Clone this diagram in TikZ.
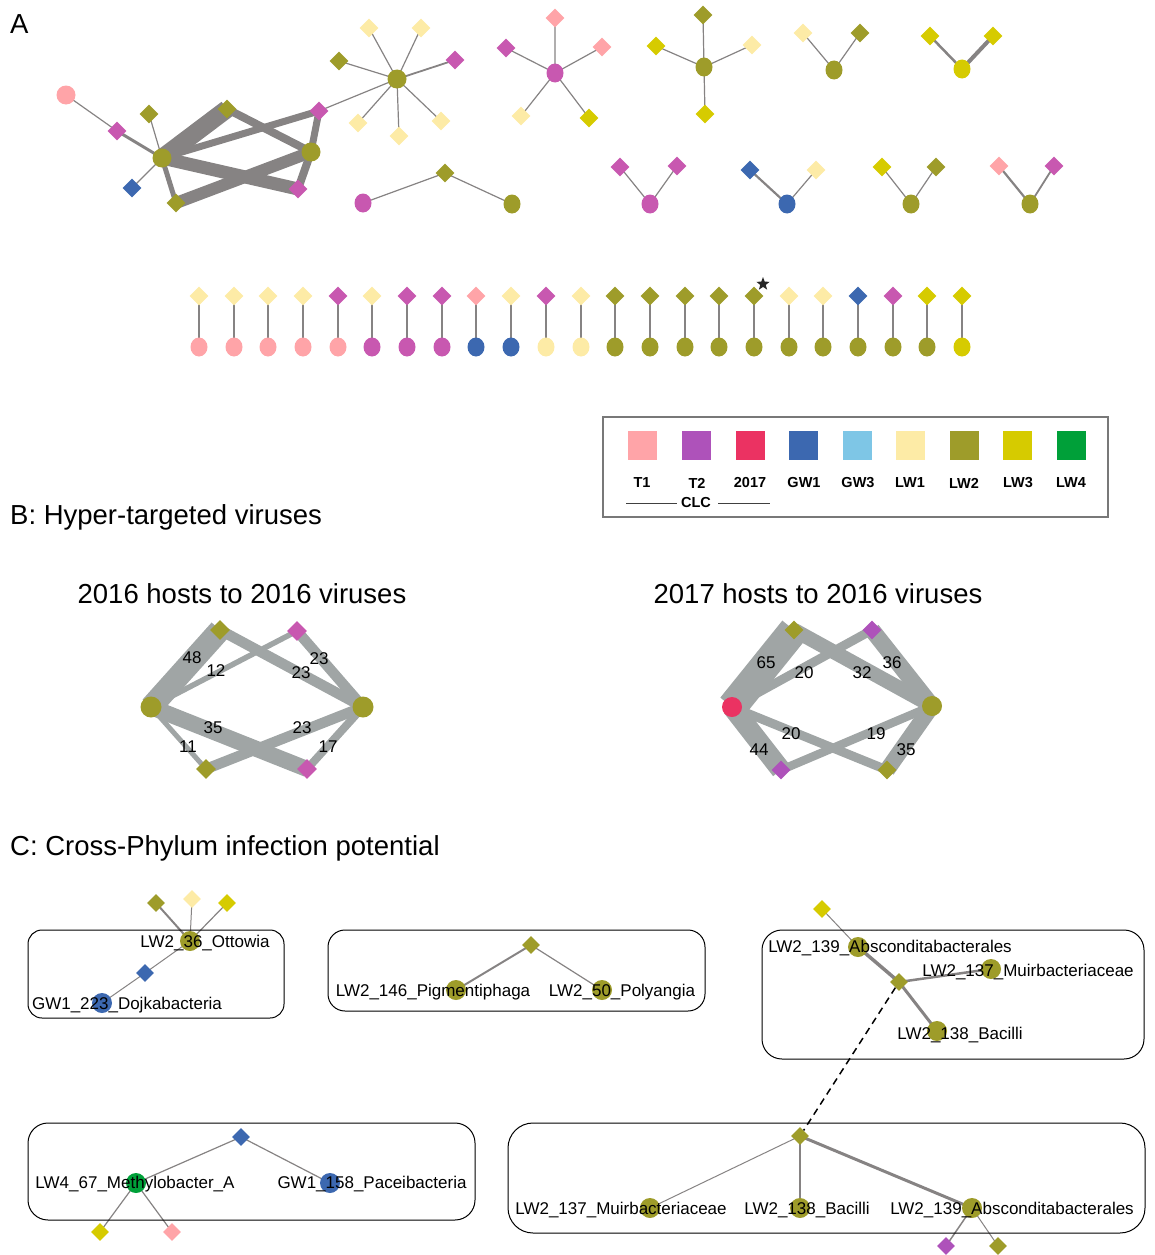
\documentclass[tikz,border=0pt]{standalone}
\usepackage{fontspec}
\setmainfont{Liberation Sans}
\usetikzlibrary{shapes.geometric}

\definecolor{tone}{RGB}{255,164,168}
\definecolor{ttwo}{RGB}{200,88,176}
\definecolor{ttwob}{RGB}{174,82,186}
\definecolor{yrseventeen}{RGB}{235,50,98}
\definecolor{gwone}{RGB}{60,104,176}
\definecolor{gwthree}{RGB}{126,198,230}
\definecolor{lwone}{RGB}{253,235,166}
\definecolor{lwtwo}{RGB}{158,156,42}
\definecolor{lwthree}{RGB}{214,203,0}
\definecolor{lwfour}{RGB}{0,160,57}
\definecolor{edgegray}{RGB}{134,131,131}
\definecolor{bandgray}{RGB}{160,165,165}
\definecolor{framegray}{RGB}{120,120,120}

\pgfdeclarelayer{edges}
\pgfsetlayers{edges,main}

\tikzset{
  hst/.style={ellipse, inner sep=0pt, minimum width=17pt, minimum height=19pt},
  hstc/.style={circle, inner sep=0pt, minimum size=20pt},
  vir/.style={diamond, inner sep=0pt, minimum size=19pt},
  sq/.style={rectangle, inner sep=0pt, minimum size=29pt},
  lnk/.style={draw=edgegray, line width=#1},
  lnk/.default=1.2pt,
  wt/.style={draw=bandgray, line width=#1},
  grp/.style={draw=black, line width=1pt, rounded corners=#1},
  hdr/.style={font=\fontsize{27.5}{33}\selectfont, anchor=base west, inner sep=0pt},
  sub/.style={font=\fontsize{27.5}{33}\selectfont, anchor=base, inner sep=0pt},
  nm/.style={font=\fontsize{17}{20}\selectfont, anchor=base, inner sep=0pt},
  wlab/.style={font=\fontsize{17}{20}\selectfont, inner sep=0pt},
  leg/.style={font=\fontsize{14.5}{16}\selectfont\bfseries, inner sep=0pt}
}

\begin{document}
\begin{tikzpicture}[x=1pt,y=-1pt]
\useasboundingbox (0,0) rectangle (1155,1255);

%%% A: networks
\node[hdr] (hA) at (10,34) {A};

% big cluster
\node[hst,minimum width=19pt,fill=tone] (pk) at (66,95) {};
\node[vir,fill=ttwo] (m1) at (117,131) {};
\node[vir,fill=lwtwo] (o1) at (149,114) {};
\node[hst,minimum width=19pt,fill=lwtwo] (h1) at (162,158) {};
\node[vir,fill=gwone] (b1) at (132,188) {};
\node[vir,fill=lwtwo] (o2) at (176,203) {};
\node[vir,fill=lwtwo] (o3) at (227,109) {};
\node[vir,fill=ttwo] (m2) at (319,111) {};
\node[hst,minimum width=19pt,fill=lwtwo] (h2) at (311,152) {};
\node[vir,fill=ttwo] (m3) at (298,189) {};
% star off the cluster
\node[hst,minimum width=19pt,fill=lwtwo] (s1) at (397,79) {};
\node[vir,fill=lwtwo] (s1a) at (339,61) {};
\node[vir,fill=lwone] (s1b) at (369,28) {};
\node[vir,fill=lwone] (s1c) at (421,28) {};
\node[vir,fill=ttwo] (s1d) at (455,60) {};
\node[vir,fill=lwone] (s1e) at (358,123) {};
\node[vir,fill=lwone] (s1f) at (399,136) {};
\node[vir,fill=lwone] (s1g) at (441,121) {};
% two hosts, one virus
\node[hst,fill=ttwo] (p1a) at (363,203) {};
\node[vir,fill=lwtwo] (p1v) at (445,173) {};
\node[hst,fill=lwtwo] (p1b) at (512,204) {};
% magenta star
\node[hst,fill=ttwo] (s2) at (555,73) {};
\node[vir,fill=tone] (s2a) at (555,18) {};
\node[vir,fill=ttwo] (s2b) at (506,48) {};
\node[vir,fill=tone] (s2c) at (602,47) {};
\node[vir,fill=lwone] (s2d) at (521,116) {};
\node[vir,fill=lwthree] (s2e) at (589,118) {};
% olive star
\node[hst,fill=lwtwo] (s3) at (704,67) {};
\node[vir,fill=lwtwo] (s3a) at (703,15) {};
\node[vir,fill=lwthree] (s3b) at (656,46) {};
\node[vir,fill=lwone] (s3c) at (752,45) {};
\node[vir,fill=lwthree] (s3d) at (705,114) {};
% V pairs
\node[hst,fill=lwtwo] (v1) at (834,70) {};
\node[vir,fill=lwone] (v1a) at (803,33) {};
\node[vir,fill=lwtwo] (v1b) at (860,33) {};
\node[hst,fill=lwthree] (v2) at (962,69) {};
\node[vir,fill=lwthree] (v2a) at (930,36) {};
\node[vir,fill=lwthree] (v2b) at (993,36) {};
\node[hst,fill=ttwo] (v3) at (650,204) {};
\node[vir,fill=ttwo] (v3a) at (620,167) {};
\node[vir,fill=ttwo] (v3b) at (677,166) {};
\node[hst,fill=gwone] (v4) at (787,204) {};
\node[vir,fill=gwone] (v4a) at (750,170) {};
\node[vir,fill=lwone] (v4b) at (816,170) {};
\node[hst,fill=lwtwo] (v5) at (911,204) {};
\node[vir,fill=lwthree] (v5a) at (882,167) {};
\node[vir,fill=lwtwo] (v5b) at (936,167) {};
\node[hst,fill=lwtwo] (v6) at (1030,204) {};
\node[vir,fill=tone] (v6a) at (999,166) {};
\node[vir,fill=ttwo] (v6b) at (1054,166) {};

\begin{pgfonlayer}{edges}
\draw[lnk] (pk.center)--(m1.center);
\draw[lnk=3pt] (m1.center)--(h1.center);
\draw[lnk] (o1.center)--(h1.center);
\draw[lnk] (b1.center)--(h1.center);
\draw[lnk=5pt] (h1.center)--(o2.center);
\draw[lnk=18pt] (h1.center)--(o3.center);
\draw[lnk=7pt] (h1.center)--(m2.center);
\draw[lnk=13pt] (h1.center)--(m3.center);
\draw[lnk=8pt] (h2.center)--(o3.center);
\draw[lnk=12pt] (h2.center)--(o2.center);
\draw[lnk=7pt] (h2.center)--(m2.center);
\draw[lnk=8pt] (h2.center)--(m3.center);
\draw[lnk] (m2.center)--(s1.center);
\draw[lnk] (s1.center)--(s1a.center) (s1.center)--(s1b.center) (s1.center)--(s1c.center);
\draw[lnk=1.8pt] (s1.center)--(s1d.center);
\draw[lnk] (s1.center)--(s1e.center) (s1.center)--(s1f.center) (s1.center)--(s1g.center);
\draw[lnk] (p1a.center)--(p1v.center)--(p1b.center);
\draw[lnk] (s2.center)--(s2a.center) (s2.center)--(s2b.center) (s2.center)--(s2c.center)
  (s2.center)--(s2d.center) (s2.center)--(s2e.center);
\draw[lnk] (s3.center)--(s3a.center) (s3.center)--(s3b.center) (s3.center)--(s3c.center)
  (s3.center)--(s3d.center);
\draw[lnk] (v1a.center)--(v1.center)--(v1b.center);
\draw[lnk=2.5pt] (v2a.center)--(v2.center);
\draw[lnk=4pt] (v2b.center)--(v2.center);
\draw[lnk] (v3a.center)--(v3.center)--(v3b.center);
\draw[lnk=2.2pt] (v4a.center)--(v4.center);
\draw[lnk] (v4b.center)--(v4.center);
\draw[lnk] (v5a.center)--(v5.center)--(v5b.center);
\draw[lnk=2.2pt] (v6a.center)--(v6.center);
\draw[lnk=1.8pt] (v6b.center)--(v6.center);
\end{pgfonlayer}

% single virus - single host row
\node[vir,fill=lwone] (r1v) at (199,296) {};   \node[hst,fill=tone] (r1h) at (199,347) {};
\node[vir,fill=lwone] (r2v) at (234,296) {};   \node[hst,fill=tone] (r2h) at (234,347) {};
\node[vir,fill=lwone] (r3v) at (268,296) {};   \node[hst,fill=tone] (r3h) at (268,347) {};
\node[vir,fill=lwone] (r4v) at (303,296) {};   \node[hst,fill=tone] (r4h) at (303,347) {};
\node[vir,fill=ttwo] (r5v) at (338,296) {};    \node[hst,fill=tone] (r5h) at (338,347) {};
\node[vir,fill=lwone] (r6v) at (372,296) {};   \node[hst,fill=ttwo] (r6h) at (372,347) {};
\node[vir,fill=ttwo] (r7v) at (407,296) {};    \node[hst,fill=ttwo] (r7h) at (407,347) {};
\node[vir,fill=ttwo] (r8v) at (442,296) {};    \node[hst,fill=ttwo] (r8h) at (442,347) {};
\node[vir,fill=tone] (r9v) at (476,296) {};    \node[hst,fill=gwone] (r9h) at (476,347) {};
\node[vir,fill=lwone] (r10v) at (511,296) {};  \node[hst,fill=gwone] (r10h) at (511,347) {};
\node[vir,fill=ttwo] (r11v) at (546,296) {};   \node[hst,fill=lwone] (r11h) at (546,347) {};
\node[vir,fill=lwone] (r12v) at (581,296) {};  \node[hst,fill=lwone] (r12h) at (581,347) {};
\node[vir,fill=lwtwo] (r13v) at (615,296) {};  \node[hst,fill=lwtwo] (r13h) at (615,347) {};
\node[vir,fill=lwtwo] (r14v) at (650,296) {};  \node[hst,fill=lwtwo] (r14h) at (650,347) {};
\node[vir,fill=lwtwo] (r15v) at (685,296) {};  \node[hst,fill=lwtwo] (r15h) at (685,347) {};
\node[vir,fill=lwtwo] (r16v) at (719,296) {};  \node[hst,fill=lwtwo] (r16h) at (719,347) {};
\node[vir,fill=lwtwo] (r17v) at (754,296) {};  \node[hst,fill=lwtwo] (r17h) at (754,347) {};
\node[vir,fill=lwone] (r18v) at (789,296) {};  \node[hst,fill=lwtwo] (r18h) at (789,347) {};
\node[vir,fill=lwone] (r19v) at (823,296) {};  \node[hst,fill=lwtwo] (r19h) at (823,347) {};
\node[vir,fill=gwone] (r20v) at (858,296) {};  \node[hst,fill=lwtwo] (r20h) at (858,347) {};
\node[vir,fill=ttwo] (r21v) at (893,296) {};   \node[hst,fill=lwtwo] (r21h) at (893,347) {};
\node[vir,fill=lwthree] (r22v) at (927,296) {};\node[hst,fill=lwtwo] (r22h) at (927,347) {};
\node[vir,fill=lwthree] (r23v) at (962,296) {};\node[hst,fill=lwthree] (r23h) at (962,347) {};
\node[star,star points=5,star point ratio=2.4,fill=black!85,inner sep=0pt,minimum size=14pt] (mark) at (763,284) {};

\begin{pgfonlayer}{edges}
\draw[lnk=1.5pt] (r1v.center)--(r1h.center) (r2v.center)--(r2h.center) (r3v.center)--(r3h.center)
  (r4v.center)--(r4h.center) (r5v.center)--(r5h.center) (r6v.center)--(r6h.center)
  (r7v.center)--(r7h.center) (r8v.center)--(r8h.center) (r9v.center)--(r9h.center)
  (r10v.center)--(r10h.center) (r11v.center)--(r11h.center) (r12v.center)--(r12h.center)
  (r13v.center)--(r13h.center) (r14v.center)--(r14h.center) (r15v.center)--(r15h.center)
  (r16v.center)--(r16h.center) (r17v.center)--(r17h.center) (r18v.center)--(r18h.center)
  (r19v.center)--(r19h.center) (r20v.center)--(r20h.center) (r21v.center)--(r21h.center)
  (r22v.center)--(r22h.center) (r23v.center)--(r23h.center);
\end{pgfonlayer}

% legend
\draw[framegray, line width=1.3pt] (603,417) rectangle (1108,517);
\node[sq,fill=tone] (kT1) at (642,445) {};
\node[sq,fill=ttwob] (kT2) at (696,445) {};
\node[sq,fill=yrseventeen] (kY17) at (750,445) {};
\node[sq,fill=gwone] (kGW1) at (803,445) {};
\node[sq,fill=gwthree] (kGW3) at (857,445) {};
\node[sq,fill=lwone] (kLW1) at (910,445) {};
\node[sq,fill=lwtwo] (kLW2) at (964,445) {};
\node[sq,fill=lwthree] (kLW3) at (1017,445) {};
\node[sq,fill=lwfour] (kLW4) at (1071,445) {};
\node[leg] (lT1) at (642,483) {T1};
\node[leg] (lT2) at (697,483) {T2};
\node[leg] (lY17) at (750,483) {2017};
\node[leg] (lGW1) at (804,483) {GW1};
\node[leg] (lGW3) at (858,483) {GW3};
\node[leg] (lLW1) at (910,483) {LW1};
\node[leg] (lLW2) at (964,483) {LW2};
\node[leg] (lLW3) at (1018,483) {LW3};
\node[leg] (lLW4) at (1071,483) {LW4};
\node[leg] (lCLC) at (696,503) {CLC};
\draw[black!75, line width=0.8pt] (626,503) -- (677,503) (718,503) -- (770,503);

%%% B: hyper-targeted
\node[hdr] (hB) at (10,524) {B: Hyper-targeted viruses};
\node[sub] (hB1) at (242,603) {2016 hosts to 2016 viruses};
\node[sub] (hB2) at (818,603) {2017 hosts to 2016 viruses};

\node[hstc,minimum size=21pt,fill=lwtwo] (bL) at (151,707) {};
\node[hstc,minimum size=21pt,fill=lwtwo] (bR) at (363,707) {};
\node[vir,minimum size=20pt,fill=lwtwo] (bTO) at (220,630) {};
\node[vir,minimum size=20pt,fill=ttwo] (bTM) at (297,631) {};
\node[vir,minimum size=20pt,fill=lwtwo] (bBO) at (206,769) {};
\node[vir,minimum size=20pt,fill=ttwo] (bBM) at (307,769) {};

\node[hstc,fill=yrseventeen] (cL) at (732,707) {};
\node[hstc,fill=lwtwo] (cR) at (932,706) {};
\node[vir,fill=lwtwo] (cTO) at (794,630) {};
\node[vir,fill=ttwob] (cTP) at (872,630) {};
\node[vir,fill=ttwob] (cBP) at (781,770) {};
\node[vir,fill=lwtwo] (cBO) at (887,770) {};

\begin{pgfonlayer}{edges}
\draw[wt=22.5pt] (bL.center)--(bTO.center);
\draw[wt=5.5pt] (bL.center)--(bTM.center);
\draw[wt=10.5pt] (bR.center)--(bTO.center);
\draw[wt=10.5pt] (bR.center)--(bTM.center);
\draw[wt=16pt] (bL.center)--(bBM.center);
\draw[wt=5pt] (bL.center)--(bBO.center);
\draw[wt=10.5pt] (bR.center)--(bBO.center);
\draw[wt=8pt] (bR.center)--(bBM.center);

\draw[wt=30pt] (cL.center)--(cTO.center);
\draw[wt=9pt] (cL.center)--(cTP.center);
\draw[wt=14.5pt] (cR.center)--(cTO.center);
\draw[wt=16.5pt] (cR.center)--(cTP.center);
\draw[wt=9pt] (cL.center)--(cBO.center);
\draw[wt=20pt] (cL.center)--(cBP.center);
\draw[wt=8.5pt] (cR.center)--(cBP.center);
\draw[wt=16pt] (cR.center)--(cBO.center);
\end{pgfonlayer}

\node[wlab] (w48) at (192,658) {48};
\node[wlab] (w12) at (216,671) {12};
\node[wlab] (w23a) at (319,659) {23};
\node[wlab] (w23b) at (301,673) {23};
\node[wlab] (w35) at (213,728) {35};
\node[wlab] (w23c) at (302,728) {23};
\node[wlab] (w11) at (188,747) {11};
\node[wlab] (w17) at (328,747) {17};

\node[wlab] (x65) at (766,663) {65};
\node[wlab] (x20a) at (804,673) {20};
\node[wlab] (x32) at (862,673) {32};
\node[wlab] (x36) at (892,663) {36};
\node[wlab] (x20b) at (791,734) {20};
\node[wlab] (x19) at (876,734) {19};
\node[wlab] (x44) at (759,750) {44};
\node[wlab] (x35) at (906,750) {35};

%%% C: cross-phylum
\node[hdr] (hC) at (10,855) {C: Cross-Phylum infection potential};

\draw[grp=14pt] (28,930) rectangle (284,1018);
\draw[grp=17pt] (328,930) rectangle (705,1011);
\draw[grp=20pt] (762,930) rectangle (1144,1059);
\draw[grp=20pt] (28,1123) rectangle (475,1220);
\draw[grp=25pt] (508,1123) rectangle (1145,1233);

% group 1
\node[vir,minimum size=18pt,fill=lwtwo] (c1o) at (156,903) {};
\node[vir,minimum size=18pt,fill=lwone] (c1w) at (192,899) {};
\node[vir,minimum size=18pt,fill=lwthree] (c1y) at (227,903) {};
\node[hstc,fill=lwtwo] (c1h) at (190,941) {};
\node[vir,minimum size=18pt,fill=gwone] (c1b) at (145,973) {};
\node[hstc,fill=gwone] (c1g) at (102,1003) {};
% group 2
\node[vir,minimum size=18pt,fill=lwtwo] (c2v) at (531,945) {};
\node[hstc,fill=lwtwo] (c2l) at (456,990) {};
\node[hstc,fill=lwtwo] (c2r) at (602,990) {};
% group 3
\node[vir,minimum size=18pt,fill=lwthree] (c3y) at (822,909) {};
\node[hstc,fill=lwtwo] (c3a) at (858,947) {};
\node[vir,minimum size=18pt,fill=lwtwo] (c3v) at (899,982) {};
\node[hstc,fill=lwtwo] (c3m) at (991,969) {};
\node[hstc,fill=lwtwo] (c3b) at (937,1031) {};
% group 4
\node[vir,minimum size=18pt,fill=gwone] (c4v) at (241,1137) {};
\node[hstc,fill=lwfour] (c4g) at (136,1183) {};
\node[hstc,fill=gwone] (c4p) at (330,1183) {};
\node[vir,minimum size=18pt,fill=lwthree] (c4y) at (100,1232) {};
\node[vir,minimum size=18pt,fill=tone] (c4k) at (172,1232) {};
% group 5
\node[vir,minimum size=18pt,fill=lwtwo] (c5v) at (800,1136) {};
\node[hstc,fill=lwtwo] (c5m) at (650,1208) {};
\node[hstc,fill=lwtwo] (c5b) at (800,1208) {};
\node[hstc,fill=lwtwo] (c5a) at (972,1208) {};
\node[vir,minimum size=18pt,fill=ttwob] (c5p) at (946,1246) {};
\node[vir,minimum size=18pt,fill=lwtwo] (c5o) at (998,1246) {};

\begin{pgfonlayer}{edges}
\draw[lnk=2pt] (c1o.center)--(c1h.center);
\draw[lnk=1pt] (c1w.center)--(c1h.center);
\draw[lnk] (c1y.center)--(c1h.center);
\draw[lnk=1pt] (c1h.center)--(c1b.center)--(c1g.center);
\draw[lnk=2pt] (c2v.center)--(c2l.center);
\draw[lnk] (c2v.center)--(c2r.center);
\draw[lnk=1pt] (c3y.center)--(c3a.center);
\draw[lnk=3.5pt] (c3a.center)--(c3v.center);
\draw[lnk=2.5pt] (c3v.center)--(c3m.center);
\draw[lnk=3pt] (c3v.center)--(c3b.center);
\draw[lnk] (c4v.center)--(c4g.center) (c4v.center)--(c4p.center);
\draw[lnk] (c4g.center)--(c4y.center) (c4g.center)--(c4k.center);
\draw[lnk=1pt] (c5v.center)--(c5m.center);
\draw[lnk=2pt] (c5v.center)--(c5b.center);
\draw[lnk=3pt] (c5v.center)--(c5a.center);
\draw[lnk=1.5pt] (c5a.center)--(c5p.center);
\draw[lnk=1pt] (c5a.center)--(c5o.center);
\end{pgfonlayer}
\draw[line width=1.5pt, dash pattern=on 7pt off 5pt] (c3v) -- (c5v);

\node[nm] (t1h) at (205,947) {LW2\_36\_Ottowia};
\node[nm] (t1g) at (127,1009) {GW1\_223\_Dojkabacteria};
\node[nm] (t2l) at (433,996) {LW2\_146\_Pigmentiphaga};
\node[nm] (t2r) at (622,996) {LW2\_50\_Polyangia};
\node[nm] (t3a) at (890,952) {LW2\_139\_Absconditabacterales};
\node[nm] (t3m) at (1028,976) {LW2\_137\_Muirbacteriaceae};
\node[nm] (t3b) at (960,1039) {LW2\_138\_Bacilli};
\node[nm] (t4g) at (135,1188) {LW4\_67\_Methylobacter\_A};
\node[nm] (t4p) at (372,1188) {GW1\_158\_Paceibacteria};
\node[nm] (t5m) at (621,1214) {LW2\_137\_Muirbacteriaceae};
\node[nm] (t5b) at (807,1214) {LW2\_138\_Bacilli};
\node[nm] (t5a) at (1012,1214) {LW2\_139\_Absconditabacterales};
\end{tikzpicture}
\end{document}
